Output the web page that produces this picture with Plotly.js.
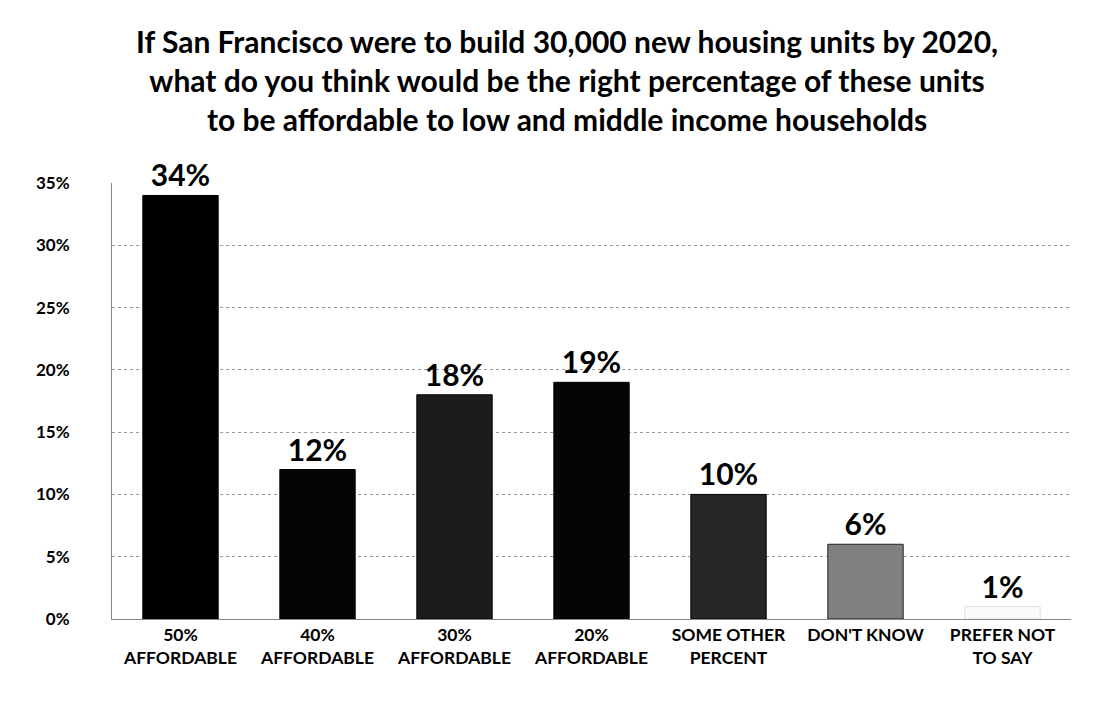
<!DOCTYPE html>
<html>
<head>
<meta charset="utf-8">
<script src="https://cdn.plot.ly/plotly-3.0.1.min.js"></script>
<style>html,body{margin:0;padding:0;background:#fff;}#chart{width:1115px;height:704px;}</style>
</head>
<body>
<div id="chart"></div>
<script>
var categories = ['50%<br>AFFORDABLE','40%<br>AFFORDABLE','30%<br>AFFORDABLE','20%<br>AFFORDABLE','SOME OTHER<br>PERCENT',"DON'T KNOW",'PREFER NOT<br>TO SAY'];
var values = [34, 12, 18, 19, 10, 6, 1];
var labels = ['34%','12%','18%','19%','10%','6%','1%'];
var barColors = ['#000000','#050505','#1c1c1c','#050505','#262626','#808080','#fafafa'];
var barLines = ['#000','#000','#000','#000','#000','#222','#e0e0e0'];
var yTicks = [0,5,10,15,20,25,30,35];
var titleText = 'If San Francisco were to build 30,000 new housing units by 2020,<br>what do you think would be the right percentage of these units<br>to be affordable to low and middle income households';

var FONT = 'Lato, "Open Sans", sans-serif';

var trace = {
  type: 'bar',
  x: categories,
  y: values,
  text: labels.map(function(s){return '<b>' + s + '</b>';}),
  textposition: 'outside',
  cliponaxis: false,
  textfont: {family: FONT, size: 30, color: '#000'},
  marker: {color: barColors, line: {color: barLines, width: 1}},
  width: 0.55,
  hoverinfo: 'none'
};

var layout = {
  width: 1115, height: 704,
  margin: {l: 112, r: 44, t: 183, b: 85},
  paper_bgcolor: '#fff', plot_bgcolor: '#fff',
  showlegend: false,
  annotations: [{
    text: '<b>' + titleText + '</b>',
    xref: 'paper', yref: 'paper', x: 0.474, y: 1.237,
    xanchor: 'center', yanchor: 'middle', showarrow: false,
    font: {family: FONT, size: 30, color: '#000'}
  }],
  xaxis: {
    type: 'category',
    tickfont: {family: FONT, size: 17.5, color: '#000', weight: 'bold'},
    showline: true, linecolor: '#888', linewidth: 1,
    ticks: '', showgrid: false
  },
  yaxis: {
    range: [0, 35],
    tickvals: yTicks,
    ticktext: yTicks.map(function(v){return '<b>' + v + '%</b>';}),
    tickfont: {family: FONT, size: 17, color: '#000'},
    ticklabelstandoff: 38,
    showgrid: true, gridcolor: '#9a9a9a', griddash: 'dot', gridwidth: 1,
    zeroline: false, showline: true, linecolor: '#888', linewidth: 1,
    ticks: '', automargin: false
  },
  bargap: 0.45
};

Plotly.newPlot('chart', [trace], layout, {displayModeBar: false, staticPlot: true});
</script>
</body>
</html>
